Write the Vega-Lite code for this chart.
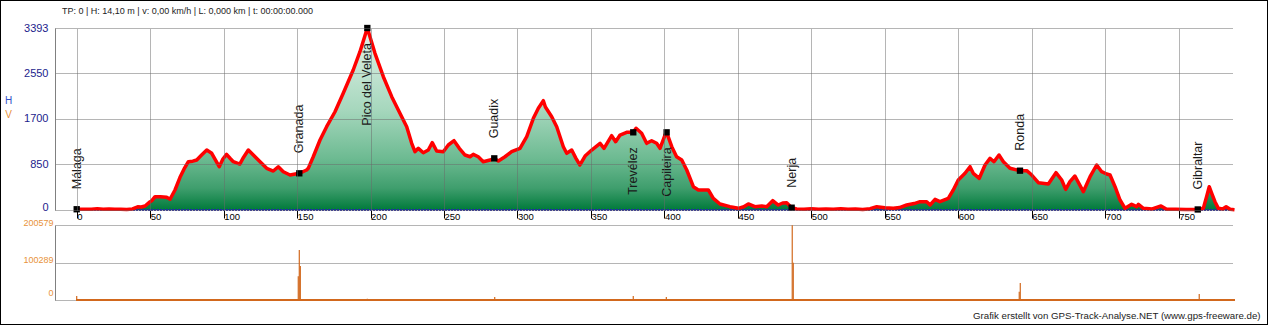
{
  "$schema": "https://vega.github.io/schema/vega-lite/v6.json",
  "width": 1268,
  "height": 325,
  "padding": 0,
  "autosize": {"type": "none"},
  "background": "white",
  "title": {
    "text": "TP: 0 | H: 14,10 m | v: 0,00 km/h | L: 0,000 km | t: 00:00:00.000",
    "anchor": "start",
    "frame": "group",
    "orient": "top",
    "offset": -15.5,
    "dx": 62,
    "fontSize": 9,
    "fontWeight": "normal",
    "color": "#222222",
    "font": "Liberation Sans"
  },
  "config": {
    "view": {"stroke": "#000000", "strokeWidth": 2},
    "font": "Liberation Sans",
    "axis": {"labelFont": "Liberation Sans", "titleFont": "Liberation Sans", "gridOpacity": 1}
  },
  "datasets": {
    "profile": [
      {"km": 0, "ele": 14}, {"km": 5, "ele": 12}, {"km": 10, "ele": 15}, {"km": 14, "ele": 25}, {"km": 18, "ele": 12},
      {"km": 22, "ele": 18}, {"km": 26, "ele": 12}, {"km": 30, "ele": 15}, {"km": 34, "ele": 10}, {"km": 38, "ele": 20},
      {"km": 41.5, "ele": 60}, {"km": 44, "ele": 55}, {"km": 46.5, "ele": 75}, {"km": 49.4, "ele": 143}, {"km": 51, "ele": 170},
      {"km": 53.3, "ele": 248}, {"km": 57, "ele": 245}, {"km": 61.2, "ele": 237}, {"km": 63.5, "ele": 200}, {"km": 66.9, "ele": 373},
      {"km": 70.3, "ele": 609}, {"km": 73, "ele": 760}, {"km": 76, "ele": 900}, {"km": 79, "ele": 910}, {"km": 81.7, "ele": 932},
      {"km": 85, "ele": 1025}, {"km": 88.5, "ele": 1118}, {"km": 91.9, "ele": 1057}, {"km": 94.5, "ele": 930}, {"km": 97, "ele": 807},
      {"km": 99.5, "ele": 950}, {"km": 102, "ele": 1038}, {"km": 104.5, "ele": 960}, {"km": 106.6, "ele": 900}, {"km": 111, "ele": 857},
      {"km": 113.5, "ele": 980}, {"km": 116.8, "ele": 1118}, {"km": 120.2, "ele": 1025}, {"km": 124.8, "ele": 900}, {"km": 129.3, "ele": 777},
      {"km": 133.8, "ele": 727}, {"km": 137.2, "ele": 807}, {"km": 140.6, "ele": 714}, {"km": 145.2, "ele": 652}, {"km": 151.5, "ele": 684},
      {"km": 156.5, "ele": 746}, {"km": 157.6, "ele": 777}, {"km": 161, "ele": 993}, {"km": 165.6, "ele": 1305}, {"km": 170.1, "ele": 1553},
      {"km": 175.8, "ele": 1832}, {"km": 181.4, "ele": 2175}, {"km": 188.2, "ele": 2610}, {"km": 192.8, "ele": 2951}, {"km": 197.8, "ele": 3393},
      {"km": 203, "ele": 2921}, {"km": 208.7, "ele": 2485}, {"km": 214.4, "ele": 2113}, {"km": 220, "ele": 1802}, {"km": 224.6, "ele": 1553},
      {"km": 228, "ele": 1243}, {"km": 230.2, "ele": 1087}, {"km": 232.5, "ele": 1150}, {"km": 235.9, "ele": 1068}, {"km": 239.3, "ele": 1118},
      {"km": 242, "ele": 1255}, {"km": 245, "ele": 1100}, {"km": 249.5, "ele": 1087}, {"km": 252.9, "ele": 1212}, {"km": 256.8, "ele": 1292},
      {"km": 260.4, "ele": 1150}, {"km": 264.3, "ele": 1025}, {"km": 267.7, "ele": 993}, {"km": 269.9, "ele": 1038}, {"km": 273.3, "ele": 993},
      {"km": 276.7, "ele": 900}, {"km": 281.3, "ele": 932}, {"km": 284.2, "ele": 963}, {"km": 287, "ele": 913}, {"km": 291.5, "ele": 993},
      {"km": 296, "ele": 1087}, {"km": 301.7, "ele": 1150}, {"km": 306.3, "ele": 1367}, {"km": 310.8, "ele": 1709}, {"km": 314.2, "ele": 1896},
      {"km": 317.6, "ele": 2038}, {"km": 319, "ele": 1920}, {"km": 323.3, "ele": 1740}, {"km": 326.7, "ele": 1553}, {"km": 331.2, "ele": 1180},
      {"km": 333.5, "ele": 1057}, {"km": 336.9, "ele": 1118}, {"km": 339.8, "ele": 963}, {"km": 342.5, "ele": 839}, {"km": 346, "ele": 1006},
      {"km": 350.5, "ele": 1118}, {"km": 356.2, "ele": 1243}, {"km": 358.9, "ele": 1150}, {"km": 364.1, "ele": 1385}, {"km": 366.8, "ele": 1274},
      {"km": 369.8, "ele": 1398}, {"km": 374.3, "ele": 1448}, {"km": 378.8, "ele": 1448}, {"km": 380.7, "ele": 1523}, {"km": 384.5, "ele": 1430},
      {"km": 387.9, "ele": 1243}, {"km": 391.3, "ele": 1292}, {"km": 394.7, "ele": 1243}, {"km": 397, "ele": 1150}, {"km": 400.4, "ele": 1398},
      {"km": 401.5, "ele": 1448}, {"km": 405, "ele": 1180}, {"km": 408.3, "ele": 993}, {"km": 411.8, "ele": 932}, {"km": 415.2, "ele": 746},
      {"km": 419.7, "ele": 434}, {"km": 423.1, "ele": 373}, {"km": 429.9, "ele": 373}, {"km": 433.3, "ele": 218}, {"km": 437.8, "ele": 112},
      {"km": 444.6, "ele": 62}, {"km": 450.3, "ele": 31}, {"km": 454, "ele": 60}, {"km": 457.1, "ele": 112}, {"km": 461.6, "ele": 62},
      {"km": 466.2, "ele": 75}, {"km": 469.6, "ele": 62}, {"km": 473.7, "ele": 174}, {"km": 477.5, "ele": 93}, {"km": 480.5, "ele": 130},
      {"km": 483.2, "ele": 137}, {"km": 486.6, "ele": 43}, {"km": 490, "ele": 20}, {"km": 495, "ele": 15}, {"km": 500, "ele": 22},
      {"km": 505, "ele": 12}, {"km": 510, "ele": 20}, {"km": 515, "ele": 15}, {"km": 520, "ele": 25}, {"km": 525, "ele": 12},
      {"km": 530, "ele": 18}, {"km": 535, "ele": 10}, {"km": 540, "ele": 25}, {"km": 544.5, "ele": 62}, {"km": 550, "ele": 40},
      {"km": 555.8, "ele": 31}, {"km": 560, "ele": 45}, {"km": 564.9, "ele": 93}, {"km": 570, "ele": 120}, {"km": 574, "ele": 155},
      {"km": 578.5, "ele": 155}, {"km": 580.8, "ele": 93}, {"km": 584.2, "ele": 199}, {"km": 587.5, "ele": 155}, {"km": 593.2, "ele": 218},
      {"km": 596.6, "ele": 373}, {"km": 600, "ele": 559}, {"km": 604.6, "ele": 684}, {"km": 608, "ele": 807}, {"km": 610.2, "ele": 684},
      {"km": 614.3, "ele": 591}, {"km": 618.2, "ele": 839}, {"km": 621.6, "ele": 963}, {"km": 624.3, "ele": 900}, {"km": 627.7, "ele": 1025},
      {"km": 630.7, "ele": 900}, {"km": 635.2, "ele": 777}, {"km": 642, "ele": 733}, {"km": 646.6, "ele": 733}, {"km": 650, "ele": 652},
      {"km": 654.5, "ele": 509}, {"km": 661.3, "ele": 485}, {"km": 666.5, "ele": 696}, {"km": 670.4, "ele": 559}, {"km": 673.1, "ele": 385},
      {"km": 676, "ele": 528}, {"km": 679.4, "ele": 634}, {"km": 685.1, "ele": 342}, {"km": 689.7, "ele": 621}, {"km": 694.2, "ele": 839},
      {"km": 697.6, "ele": 714}, {"km": 701, "ele": 671}, {"km": 703.3, "ele": 652}, {"km": 706.7, "ele": 434}, {"km": 710.1, "ele": 186},
      {"km": 713.5, "ele": 31}, {"km": 718, "ele": 106}, {"km": 721.4, "ele": 62}, {"km": 722.6, "ele": 106}, {"km": 726, "ele": 31},
      {"km": 732, "ele": 20}, {"km": 738, "ele": 75}, {"km": 741.8, "ele": 13}, {"km": 748, "ele": 15}, {"km": 755, "ele": 10},
      {"km": 763, "ele": 10}, {"km": 766.8, "ele": 31}, {"km": 769, "ele": 248}, {"km": 770.8, "ele": 434}, {"km": 772.5, "ele": 311},
      {"km": 774.7, "ele": 155}, {"km": 777, "ele": 31}, {"km": 780, "ele": 20}, {"km": 782.3, "ele": 62}, {"km": 785, "ele": 13},
      {"km": 788, "ele": 5}
    ],
    "waypoints": [
      {"name": "Málaga", "km": 0, "ele": 14},
      {"name": "Granada", "km": 151.5, "ele": 684},
      {"name": "Pico del Veleta", "km": 197.8, "ele": 3393},
      {"name": "Guadix", "km": 284.2, "ele": 963},
      {"name": "Trevélez", "km": 378.8, "ele": 1448},
      {"name": "Capileira", "km": 401.5, "ele": 1448},
      {"name": "Nerja", "km": 486.6, "ele": 43},
      {"name": "Ronda", "km": 642, "ele": 733},
      {"name": "Gibraltar", "km": 763, "ele": 10}
    ],
    "speed": [
      {"km": 0, "v": 10700},
      {"km": 150.8, "v": 64000}, {"km": 151.5, "v": 134000}, {"km": 152.2, "v": 91000},
      {"km": 197.8, "v": 3500},
      {"km": 284.5, "v": 8000},
      {"km": 378.8, "v": 10700},
      {"km": 401.3, "v": 8000},
      {"km": 487.0, "v": 200579}, {"km": 487.7, "v": 100289},
      {"km": 641.5, "v": 22300}, {"km": 642.2, "v": 45600},
      {"km": 764, "v": 16000}
    ]
  },
  "layer": [
    {
      "encoding": {
        "x": {
          "field": "km", "type": "quantitative",
          "scale": {"domain": [-14.77, 786.3], "range": [55, 1232], "nice": false, "zero": false},
          "axis": {
            "orient": "bottom", "offset": -115,
            "values": [0, 50, 100, 150, 200, 250, 300, 350, 400, 450, 500, 550, 600, 650, 700, 750],
            "grid": false, "domain": false, "labels": false, "title": null,
            "ticks": true, "tickSize": -182, "tickColor": "#6a6a6a", "tickWidth": 1, "tickDash": [1, 1],
            "zindex": 1
          }
        },
        "y": {
          "field": "ele", "type": "quantitative",
          "scale": {"domain": [0, 3393], "range": [210, 28], "nice": false, "zero": false},
          "axis": {
            "orient": "left", "offset": -55,
            "values": [0, 850, 1700, 2550, 3393],
            "format": "d",
            "grid": true, "gridColor": "#6a6a6a", "gridDash": [1, 1],
            "domain": true, "domainColor": "#808080",
            "ticks": false, "labelPadding": 7,
            "labelFontSize": 11, "labelColor": "#1c1c8c",
            "labelOffset": {"condition": {"test": "datum.value == 0", "value": -3}, "value": 0},
            "title": "H", "titleX": -47, "titleY": 100, "titleAngle": 0,
            "titleAlign": "center", "titleBaseline": "middle",
            "titleColor": "#3050c8", "titleFontSize": 10, "titleFontWeight": "normal",
            "zindex": 1
          }
        }
      },
      "layer": [
        {
          "data": {"name": "profile"},
          "mark": {
            "type": "area",
            "color": {
              "gradient": "linear", "x1": 0, "y1": 0, "x2": 0, "y2": 1,
              "stops": [
                {"offset": 0, "color": "#e4f3ea"},
                {"offset": 0.45, "color": "#a6d7bd"},
                {"offset": 0.72, "color": "#6cba91"},
                {"offset": 0.88, "color": "#3f9e6d"},
                {"offset": 1, "color": "#007a3b"}
              ]
            }
          }
        },
        {
          "data": {"name": "profile"},
          "mark": {"type": "rule", "color": "#2828b0", "strokeWidth": 1, "strokeDash": [1, 2]},
          "encoding": {"x": {"datum": 0}, "x2": {"datum": 788}, "y": {"datum": 0}}
        },
        {
          "data": {"name": "profile"},
          "mark": {"type": "line", "color": "#ff0000", "strokeWidth": 3.5, "strokeJoin": "round"}
        },
        {
          "data": {"name": "waypoints"},
          "mark": {"type": "point", "shape": "square", "size": 40, "filled": true, "color": "#000000", "opacity": 1}
        },
        {
          "data": {"name": "waypoints"},
          "transform": [{"filter": "datum.ele < 1200"}],
          "mark": {"type": "text", "angle": 270, "align": "left", "baseline": "middle", "dx": 20, "fontSize": 12.5, "color": "#1a1a1a"},
          "encoding": {"text": {"field": "name"}}
        },
        {
          "data": {"name": "waypoints"},
          "transform": [{"filter": "datum.ele >= 1200"}],
          "mark": {"type": "text", "angle": 270, "align": "right", "baseline": "middle", "dx": -15, "fontSize": 12.5, "color": "#1a1a1a"},
          "encoding": {"text": {"field": "name"}}
        }
      ]
    },
    {
      "data": {"name": "speed"},
      "encoding": {
        "x": {
          "field": "km", "type": "quantitative",
          "scale": {"domain": [-14.77, 786.3], "range": [55, 1232], "nice": false, "zero": false},
          "axis": {
            "orient": "bottom", "offset": -115,
            "values": [0, 50, 100, 150, 200, 250, 300, 350, 400, 450, 500, 550, 600, 650, 700, 750],
            "format": "d",
            "grid": false,
            "domain": false,
            "ticks": true, "tickSize": 8, "tickColor": "#000000", "tickWidth": 1,
            "labelAlign": "left", "labelBaseline": "top", "labelDx": 3, "labelPadding": -7,
            "labelFontSize": 9.5, "labelColor": "#000000", "labelFlush": false, "labelOverlap": false,
            "title": "Grafik erstellt von GPS-Track-Analyse.NET (www.gps-freeware.de)",
            "titleX": 1260, "titleY": 105, "titleAlign": "right", "titleBaseline": "middle",
            "titleFontSize": 9.7, "titleFontWeight": "normal", "titleColor": "#222222"
          }
        },
        "y": {
          "field": "v", "type": "quantitative",
          "scale": {"domain": [0, 200579], "range": [300, 225.3], "nice": false, "zero": false},
          "axis": {
            "orient": "left", "offset": -55,
            "values": [0, 100289, 200579],
            "format": "d",
            "grid": true, "gridColor": "#6a6a6a", "gridDash": [1, 1],
            "domain": true, "domainColor": "#808080",
            "ticks": false, "labelPadding": 2,
            "labelFontSize": 9, "labelColor": "#e8923a",
            "labelOffset": {"condition": {"test": "datum.value == 0", "value": -8}, "value": -3},
            "title": "V", "titleX": -47, "titleY": 114, "titleAngle": 0,
            "titleAlign": "center", "titleBaseline": "middle",
            "titleColor": "#e8923a", "titleFontSize": 10, "titleFontWeight": "normal"
          }
        }
      },
      "layer": [
        {
          "mark": {"type": "rule", "color": "#d2691e", "strokeWidth": 1.2},
          "encoding": {"y2": {"datum": 0}}
        },
        {
          "mark": {"type": "rule", "color": "#d2691e", "strokeWidth": 1.5},
          "encoding": {"x": {"datum": 0}, "x2": {"datum": 788}, "y": {"datum": 0}}
        }
      ]
    }
  ],
  "resolve": {
    "scale": {"y": "independent"},
    "axis": {"x": "independent", "y": "independent"}
  }
}
